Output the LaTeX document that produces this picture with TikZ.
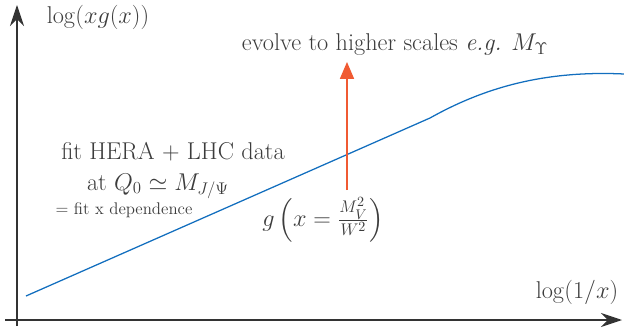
\documentclass[tikz,border=0pt]{standalone}
\usepackage{amsmath,amssymb}
\usetikzlibrary{arrows.meta,calc}
\definecolor{curveblue}{RGB}{18,110,190}
\definecolor{evolveorange}{RGB}{240,90,50}
\definecolor{txtgray}{RGB}{60,60,60}

\begin{document}
\begin{tikzpicture}[x=0.025cm,y=-0.025cm,
  axis/.style={line width=0.8pt,draw=black!80,-{Stealth[length=15pt,width=10pt]}},
  lbl/.style={text=txtgray,font=\LARGE,inner sep=1pt}]
\useasboundingbox (0,0) rectangle (624,328);

% axes
\coordinate (O) at (17,320);
\coordinate (ybot) at (17,326);
\coordinate (ytop) at (17,5);
\coordinate (xleft) at (5,320);
\coordinate (xright) at (622,320);
\draw[axis] (ybot) -- (ytop);
\draw[axis] (xleft) -- (xright);

\node[lbl] (ylab) at (98,17) {$\log(xg(x))$};
\node[lbl] (xlab) at (577,292) {$\log(1/x)$};

% gluon curve
\draw[curveblue,line width=0.9pt] (26,296) -- (430,118)
  .. controls (480,90) and (540,70) .. (624,74);

% evolution
\coordinate (gtop) at (347,62);
\coordinate (gbot) at (347,190);
\draw[evolveorange,line width=0.9pt,-{Triangle[length=12pt,width=10pt]}] (gbot) -- (gtop);
\node[lbl] (evolve) at (395,45) {evolve to higher scales \textit{e.g.} $M_\Upsilon$};

% fit text
\node[lbl] (fit) at (173,152) {fit HERA + LHC data};
\node[lbl] (atQ) at (158,186) {at $Q_0\simeq M_{J/\Psi}$};
\node[lbl,font=\large] (xdep) at (124,210) {= fit x dependence};

\node[lbl] (gx) at (323,220) {$g\left(x=\frac{M_V^2}{W^2}\right)$};
\end{tikzpicture}
\end{document}
